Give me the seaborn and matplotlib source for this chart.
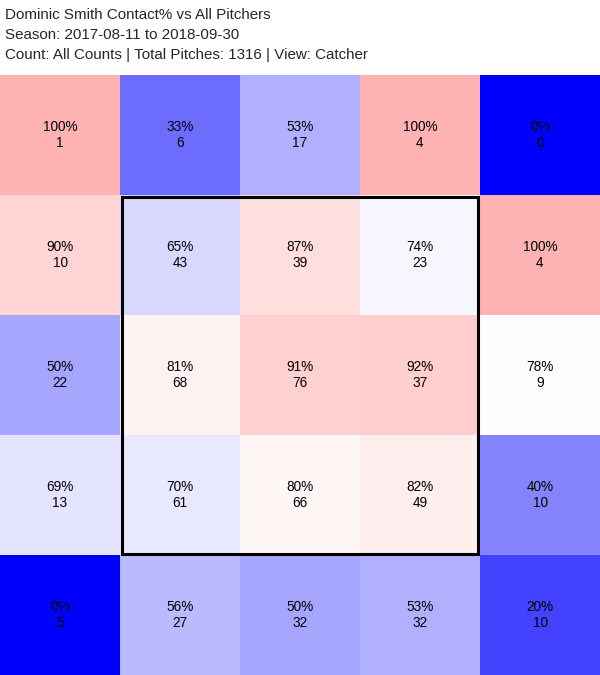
import numpy as np
import pandas as pd
import matplotlib
matplotlib.use("Agg")
import matplotlib.pyplot as plt
import seaborn as sns
from matplotlib.patches import Rectangle

player = "Dominic Smith"
season = "2017-08-11 to 2018-09-30"
total_pitches = 1316

# contact% per zone, rows top to bottom (catcher view)
contact_pct = [
    [100, 33, 53, 100, 0],
    [90, 65, 87, 74, 100],
    [50, 81, 91, 92, 78],
    [69, 70, 80, 82, 40],
    [0, 56, 50, 53, 20],
]
pitch_counts = [
    [1, 6, 17, 4, 0],
    [10, 43, 39, 23, 4],
    [22, 68, 76, 37, 9],
    [13, 61, 66, 49, 10],
    [5, 27, 32, 32, 10],
]

pct = pd.DataFrame(contact_pct)
cnt = pd.DataFrame(pitch_counts)
labels = pct.astype(str) + "%\n" + cnt.astype(str)

sns.set_style("white")
plt.rcParams['font.family'] = ['Liberation Sans', 'DejaVu Sans']

fig = plt.figure(figsize=(6, 6.75), dpi=100)
ax = fig.add_axes([0, 0, 1, 600 / 675])

center = 77
sns.heatmap(pct, ax=ax, cmap="bwr", vmin=0, vmax=2 * center, cbar=False,
            annot=labels, fmt="", square=False,
            annot_kws={"fontsize": 9.8, "color": "black", "linespacing": 1.15})
ax.set_xticks([])
ax.set_yticks([])
ax.set_xlabel("")
ax.set_ylabel("")
for s in ax.spines.values():
    s.set_visible(False)

# strike zone
ins = 1.5 / 120
ax.add_patch(Rectangle((1 + ins, 1 + ins), 3 - 2 * ins, 3 - 2 * ins,
                       fill=False, edgecolor="black", linewidth=2.2))

fig.text(5 / 600, 1 - 15 / 675, f"{player} Contact% vs All Pitchers",
         fontsize=10.9, va="center", ha="left")
fig.text(5 / 600, 1 - 35 / 675, f"Season: {season}",
         fontsize=10.9, va="center", ha="left")
fig.text(5 / 600, 1 - 55 / 675,
         f"Count: All Counts | Total Pitches: {total_pitches} | View: Catcher",
         fontsize=10.9, va="center", ha="left")

fig.savefig("out.png", dpi=100)
